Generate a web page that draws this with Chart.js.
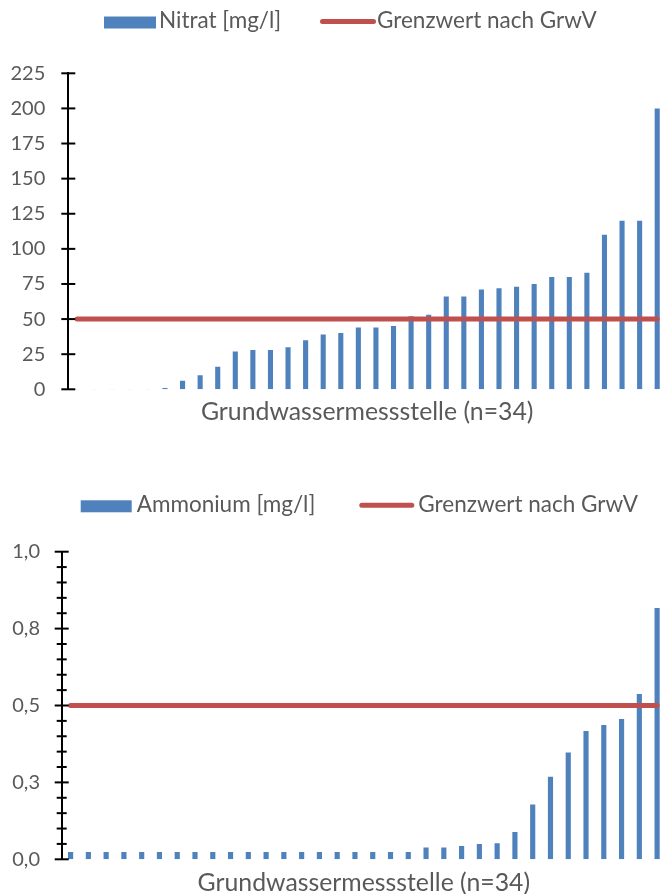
<!DOCTYPE html>
<html><head><meta charset="utf-8">
<script src="https://cdn.jsdelivr.net/npm/chart.js@4/dist/chart.umd.min.js"></script>
<style>
html,body{margin:0;padding:0;overflow:hidden;background:#fff;width:661px;height:894px}
.wrap{position:absolute;left:0;width:667px}
#w1{top:0;height:440px}
#w2{top:460px;height:436px}
</style></head><body>
<div class="wrap" id="w1"><canvas id="c1" width="667" height="440"></canvas></div>
<div class="wrap" id="w2"><canvas id="c2" width="667" height="436"></canvas></div>
<script>
// ---- data ----
const stations = ['1','2','3','4','5','6','7','8','9','10','11','12','13','14','15','16','17','18','19','20','21','22','23','24','25','26','27','28','29','30','31','32','33','34'];
const nitrat = [0.3,0.3,0.3,0.3,0.3,1,6,10,16,27,28,28,30,35,39,40,44,44,45,52,53,66,66,71,72,73,75,80,80,83,110,120,120,200];
const nitratLimit = [50,50,50,50,50,50,50,50,50,50,50,50,50,50,50,50,50,50,50,50,50,50,50,50,50,50,50,50,50,50,50,50,50,50];
const ammonium = [0.024,0.024,0.024,0.024,0.024,0.024,0.024,0.024,0.024,0.024,0.024,0.024,0.024,0.024,0.024,0.024,0.024,0.024,0.024,0.024,0.038,0.038,0.043,0.05,0.052,0.089,0.178,0.268,0.347,0.417,0.437,0.456,0.537,0.817];
const ammoniumLimit = [0.5,0.5,0.5,0.5,0.5,0.5,0.5,0.5,0.5,0.5,0.5,0.5,0.5,0.5,0.5,0.5,0.5,0.5,0.5,0.5,0.5,0.5,0.5,0.5,0.5,0.5,0.5,0.5,0.5,0.5,0.5,0.5,0.5,0.5];
const nitratTickLabels = ['0','25','50','75','100','125','150','175','200','225'];
const ammoniumTickLabels = ['0,0','0,3','0,5','0,8','1,0'];
const seriesNames = ['Nitrat [mg/l]','Ammonium [mg/l]','Grenzwert nach GrwV'];
const xTitle = 'Grundwassermessstelle (n=34)';

const BLUE = '#4F81BD', RED = '#C0504D', TXT = '#595959';
const FONT = 'Lato';

const crossTicks = {
  id: 'crossTicks',
  afterDraw(chart, args, opts) {
    const s = chart.scales.y, ctx = chart.ctx, x = s.right;
    ctx.save(); ctx.strokeStyle = '#000'; ctx.lineWidth = 2;
    s.ticks.forEach((t, i) => {
      const y = s.getPixelForTick(i);
      const len = opts.isMajor(t.value) ? opts.major : opts.minor;
      ctx.beginPath(); ctx.moveTo(x - len, y); ctx.lineTo(x + len, y); ctx.stroke();
    });
    ctx.restore();
  }
};
const sketchLegend = {
  id: 'sketchLegend',
  afterDraw(chart, args, opts) {
    const ctx = chart.ctx;
    ctx.save();
    ctx.font = opts.fontSize + 'px "' + FONT + '"';
    ctx.fillStyle = TXT; ctx.textBaseline = 'alphabetic'; ctx.textAlign = 'left';
    chart.data.datasets.forEach((ds, i) => {
      const it = opts.items[i];
      if (ds.type === 'line') {
        ctx.strokeStyle = ds.borderColor; ctx.lineWidth = ds.borderWidth; ctx.lineCap = 'round';
        ctx.beginPath(); ctx.moveTo(it.x + 2.5, opts.y - 1); ctx.lineTo(it.x + it.w - 2.5, opts.y - 1); ctx.stroke();
      } else {
        ctx.fillStyle = ds.backgroundColor; ctx.fillRect(it.x, opts.y - 6, it.w, 12);
        ctx.fillStyle = TXT;
      }
      ctx.fillText(ds.label, it.x + it.w + it.gap, opts.y + 5.5);
    });
    ctx.restore();
  }
};

function makeChart(id, cfg) {
  return new Chart(document.getElementById(id), {
    data: {
      labels: stations,
      datasets: [
        { type: 'bar', label: cfg.name, data: cfg.values, backgroundColor: BLUE, borderWidth: 0,
          barPercentage: 0.29, categoryPercentage: 1, order: 1 },
        { type: 'line', label: seriesNames[2], data: cfg.limit, borderColor: RED, backgroundColor: RED,
          borderWidth: 5, borderCapStyle: 'round', pointRadius: 0, tension: 0, order: 0 }
      ]
    },
    options: {
      responsive: false, animation: false, events: [],
      layout: { padding: { top: cfg.top, left: 0, right: 1, bottom: 0 } },
      plugins: {
        legend: { display: false }, tooltip: { enabled: false },
        crossTicks: cfg.ticks,
        sketchLegend: cfg.legend
      },
      scales: {
        x: {
          type: 'category', offset: true,
          grid: { display: false, drawTicks: false }, border: { display: false },
          ticks: { display: false },
          title: { display: true, text: xTitle, color: TXT,
                   font: { family: FONT, size: 24.8, lineHeight: 1 },
                   padding: { top: cfg.titleTop, bottom: cfg.titleBottom } }
        },
        y: {
          min: 0, max: cfg.max,
          grid: { display: false, drawTicks: false },
          border: { display: true, color: '#000', width: 2 },
          ticks: { stepSize: cfg.step, autoSkip: false, padding: cfg.labelPad, color: TXT,
                   font: { family: FONT, size: 20 }, callback: cfg.label },
          afterFit(s) { s.width = cfg.axisX; }
        }
      }
    },
    plugins: [crossTicks, sketchLegend]
  });
}

makeChart('c1', {
  name: seriesNames[0], values: nitrat, limit: nitratLimit, max: 225, step: 25,
  top: 73.3, titleTop: 10.3, titleBottom: 15.6, axisX: 68.3, labelPad: 23,
  label: (v) => nitratTickLabels[Math.round(v / 25)],
  ticks: { isMajor: () => true, major: 7, minor: 7 },
  legend: { y: 22.5, fontSize: 22.5, items: [{ x: 104, w: 52, gap: 3 }, { x: 320, w: 56, gap: 1 }] }
});
makeChart('c2', {
  name: seriesNames[1], values: ammonium, limit: ammoniumLimit, max: 1, step: 0.05,
  top: 91.7, titleTop: 11.3, titleBottom: 0.6, axisX: 61.7, labelPad: 21.7,
  label: (v) => { const k = Math.round(v * 100); return k % 25 === 0 ? ammoniumTickLabels[k / 25] : ''; },
  ticks: { isMajor: (v) => Math.round(v * 100) % 25 === 0, major: 7, minor: 5 },
  legend: { y: 46.3, fontSize: 22.5, items: [{ x: 80.7, w: 51, gap: 5 }, { x: 359.3, w: 55, gap: 4 }] }
});
</script>
</body></html>
